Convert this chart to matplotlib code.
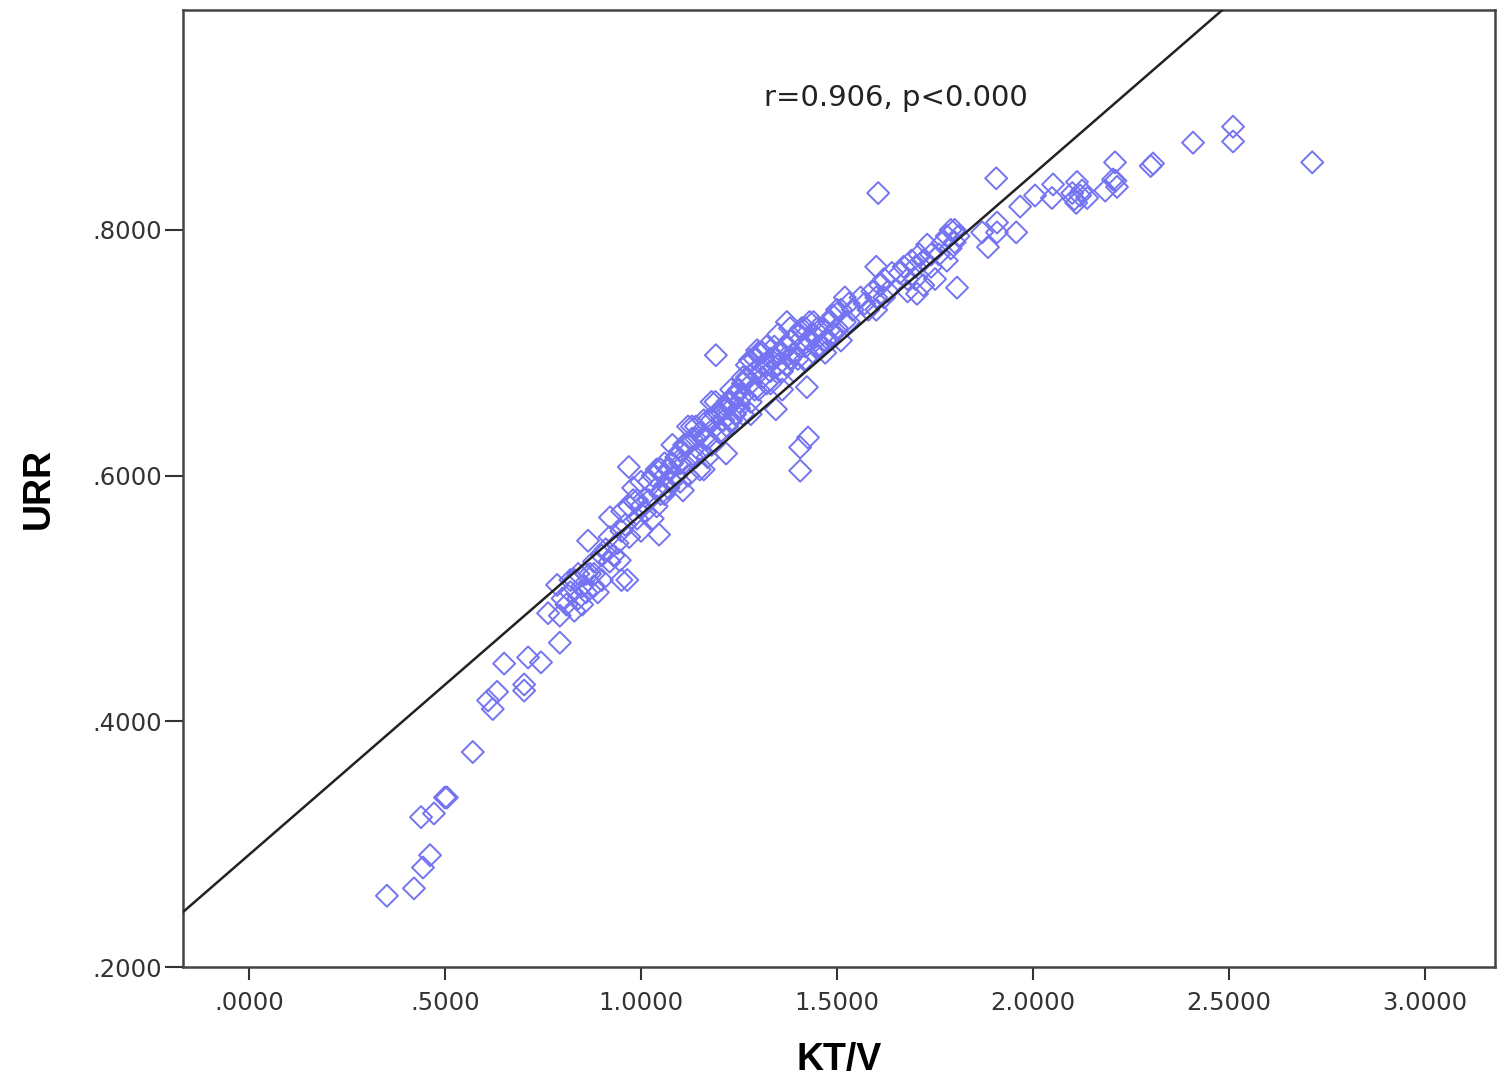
import matplotlib
matplotlib.use("Agg")
import matplotlib.pyplot as plt
from matplotlib.ticker import FuncFormatter

# ---- data ----
kt_values = [
    0.352, 0.421, 0.444, 0.462, 0.439, 0.472, 0.500, 0.505, 0.571, 0.610,
    0.622, 0.633, 0.651, 0.702, 0.702, 0.712, 0.745, 0.793, 0.763, 0.786,
    0.793, 0.80, 0.81, 0.82, 0.83, 0.83, 0.84, 0.84, 0.85, 0.85,
    0.865, 0.86, 0.87, 0.88, 0.88, 0.89, 0.90, 0.90, 0.921, 0.91,
    0.92, 0.93, 0.94, 0.946, 0.95, 0.965, 0.952, 0.969, 0.96, 0.97,
    0.98, 0.99, 0.99, 1.00, 0.98, 1.00, 1.01, 1.02, 1.03, 1.04,
    1.046, 1.05, 1.03, 1.04, 1.05, 1.06, 1.07, 1.08, 1.09, 1.10,
    1.07, 1.10, 1.08, 1.11, 1.12, 1.13, 1.14, 1.15, 1.12, 1.14,
    1.107, 1.16, 1.17, 1.18, 1.19, 1.20, 1.17, 1.19, 1.16, 1.18,
    1.191, 1.21, 1.22, 1.23, 1.24, 1.25, 1.217, 1.21, 1.24, 1.23,
    1.26, 1.27, 1.28, 1.29, 1.30, 1.27, 1.28, 1.30, 1.26, 1.278,
    1.296, 1.31, 1.31, 1.32, 1.33, 1.34, 1.35, 1.32, 1.344, 1.33,
    1.36, 1.37, 1.38, 1.39, 1.40, 1.372, 1.39, 1.40, 1.423, 1.406,
    1.426, 1.406, 1.41, 1.42, 1.43, 1.44, 1.45, 1.42, 1.44, 1.46,
    1.47, 1.48, 1.49, 1.50, 1.47, 1.49, 1.50, 1.51, 1.52, 1.53,
    1.54, 1.52, 1.51, 1.57, 1.59, 1.60, 1.58, 1.605, 1.60, 1.61,
    1.62, 1.63, 1.64, 1.62, 1.60, 1.66, 1.67, 1.68, 1.69, 1.70,
    1.68, 1.70, 1.704, 1.71, 1.72, 1.73, 1.74, 1.75, 1.72, 1.74,
    1.76, 1.77, 1.78, 1.79, 1.80, 1.78, 1.80, 1.806, 1.81, 1.79,
    1.06, 1.09, 1.13, 1.15, 1.18, 1.21, 1.25, 1.29, 1.33, 1.36,
    1.38, 1.43, 1.46, 1.35, 1.26, 1.12, 1.00, 0.97, 1.15, 1.22,
    1.36, 1.44,
    1.02, 1.04, 1.06, 1.08, 1.10, 1.11, 1.13, 1.14, 1.16, 1.17,
    1.19, 1.20, 1.22, 1.23, 1.25, 1.26, 1.28, 1.29, 1.31, 1.32,
    1.34, 1.35, 1.37, 1.38, 1.41, 1.42, 1.45, 1.48, 1.53, 1.56,
    0.88, 0.92, 0.95, 0.86, 0.82,
    1.870, 1.885, 1.908, 1.908, 1.957, 1.906, 1.967, 2.005, 2.048, 2.051,
    2.100, 2.105, 2.110, 2.120, 2.112, 2.125, 2.138, 2.184, 2.204, 2.209,
    2.214, 2.210, 2.306, 2.300, 2.408, 2.510, 2.510, 2.712,
]
urr_values = [
    0.258, 0.264, 0.281, 0.291, 0.322, 0.325, 0.338, 0.338, 0.375, 0.417,
    0.410, 0.424, 0.447, 0.430, 0.425, 0.452, 0.448, 0.464, 0.488, 0.511,
    0.486, 0.500, 0.495, 0.505, 0.490, 0.515, 0.500, 0.520, 0.495, 0.510,
    0.547, 0.505, 0.520, 0.510, 0.530, 0.505, 0.515, 0.535, 0.566, 0.540,
    0.550, 0.535, 0.545, 0.531, 0.515, 0.515, 0.571, 0.607, 0.560, 0.550,
    0.580, 0.580, 0.565, 0.555, 0.590, 0.595, 0.570, 0.580, 0.600, 0.590,
    0.552, 0.605, 0.565, 0.575, 0.585, 0.600, 0.590, 0.610, 0.600, 0.620,
    0.605, 0.595, 0.625, 0.610, 0.625, 0.615, 0.630, 0.620, 0.600, 0.640,
    0.588, 0.630, 0.645, 0.625, 0.640, 0.650, 0.615, 0.660, 0.605, 0.660,
    0.698, 0.655, 0.640, 0.660, 0.650, 0.670, 0.618, 0.635, 0.665, 0.645,
    0.665, 0.680, 0.660, 0.685, 0.670, 0.690, 0.650, 0.700, 0.650, 0.694,
    0.702, 0.700, 0.680, 0.690, 0.675, 0.695, 0.700, 0.705, 0.654, 0.685,
    0.700, 0.690, 0.710, 0.700, 0.715, 0.725, 0.685, 0.695, 0.672, 0.623,
    0.631, 0.604, 0.705, 0.720, 0.710, 0.715, 0.705, 0.695, 0.725, 0.720,
    0.710, 0.725, 0.730, 0.735, 0.700, 0.715, 0.720, 0.735, 0.725, 0.740,
    0.735, 0.745, 0.710, 0.740, 0.750, 0.745, 0.735, 0.830, 0.770, 0.755,
    0.760, 0.750, 0.765, 0.745, 0.735, 0.765, 0.770, 0.760, 0.775, 0.770,
    0.750, 0.760, 0.748, 0.780, 0.775, 0.788, 0.770, 0.760, 0.755, 0.780,
    0.780, 0.790, 0.795, 0.785, 0.790, 0.775, 0.800, 0.753, 0.795, 0.800,
    0.610, 0.615, 0.630, 0.635, 0.645, 0.645, 0.655, 0.670, 0.695, 0.685,
    0.695, 0.725, 0.705, 0.715, 0.680, 0.640, 0.575, 0.575, 0.605, 0.660,
    0.670, 0.700,
    0.595, 0.605, 0.585, 0.595, 0.610, 0.625, 0.640, 0.615, 0.645, 0.630,
    0.650, 0.635, 0.655, 0.670, 0.660, 0.675, 0.675, 0.695, 0.690, 0.675,
    0.705, 0.690, 0.705, 0.720, 0.720, 0.705, 0.720, 0.710, 0.725, 0.745,
    0.520, 0.530, 0.555, 0.520, 0.515,
    0.798, 0.786, 0.798, 0.806, 0.798, 0.842, 0.819, 0.828, 0.826, 0.837,
    0.830, 0.825, 0.822, 0.828, 0.839, 0.832, 0.826, 0.832, 0.841, 0.855,
    0.835, 0.840, 0.854, 0.852, 0.871, 0.884, 0.872, 0.855,
]
fit_intercept = 0.2913
fit_slope = 0.277
x_ticks = [0.0, 0.5, 1.0, 1.5, 2.0, 2.5, 3.0]
y_ticks = [0.2, 0.4, 0.6, 0.8]
annotation = "r=0.906, p<0.000"

# ---- figure ----
plt.rcParams['font.family'] = ['DejaVu Sans']
fig = plt.figure(figsize=(14.99, 10.88), dpi=100)
ax = fig.add_axes([0.1221, 0.1112, 0.9973 - 0.1221, 0.9908 - 0.1112])

xlim = (-0.168, 3.178)
ylim = (0.2, 0.979)
ax.set_xlim(*xlim)
ax.set_ylim(*ylim)

ax.scatter(kt_values, urr_values, marker='D', s=125, facecolors='none',
           edgecolors='#7474f2', linewidths=1.4, zorder=2)

xs = [xlim[0], xlim[1]]
ax.plot(xs, [fit_intercept + fit_slope * x for x in xs], color='#222222',
        lw=1.8, zorder=3)

ax.text(1.65, 0.907, annotation, ha='center', va='center', fontsize=21,
        color='#222222')

ax.set_xticks(x_ticks)
ax.set_yticks(y_ticks)

def fmt(v, pos):
    s = f"{v:.4f}"
    if s.startswith("0."):
        s = s[1:]
    return s

ax.xaxis.set_major_formatter(FuncFormatter(fmt))
ax.yaxis.set_major_formatter(FuncFormatter(fmt))
ax.tick_params(axis='x', direction='out', length=9, width=1.5,
               labelsize=17.5, colors='#333333', pad=8)
ax.tick_params(axis='y', direction='out', length=13, width=1.5,
               labelsize=17.5, colors='#333333', pad=2)
for sp in ax.spines.values():
    sp.set_color('#444444')
    sp.set_linewidth(1.8)

ax.set_xlabel('KT/V', fontsize=27, fontweight='bold', labelpad=20,
              family=['Liberation Sans', 'DejaVu Sans'])
ax.set_ylabel('URR', fontsize=27, fontweight='bold', labelpad=26,
              family=['Liberation Sans', 'DejaVu Sans'])

fig.savefig('out.png', dpi=100, facecolor='white')
